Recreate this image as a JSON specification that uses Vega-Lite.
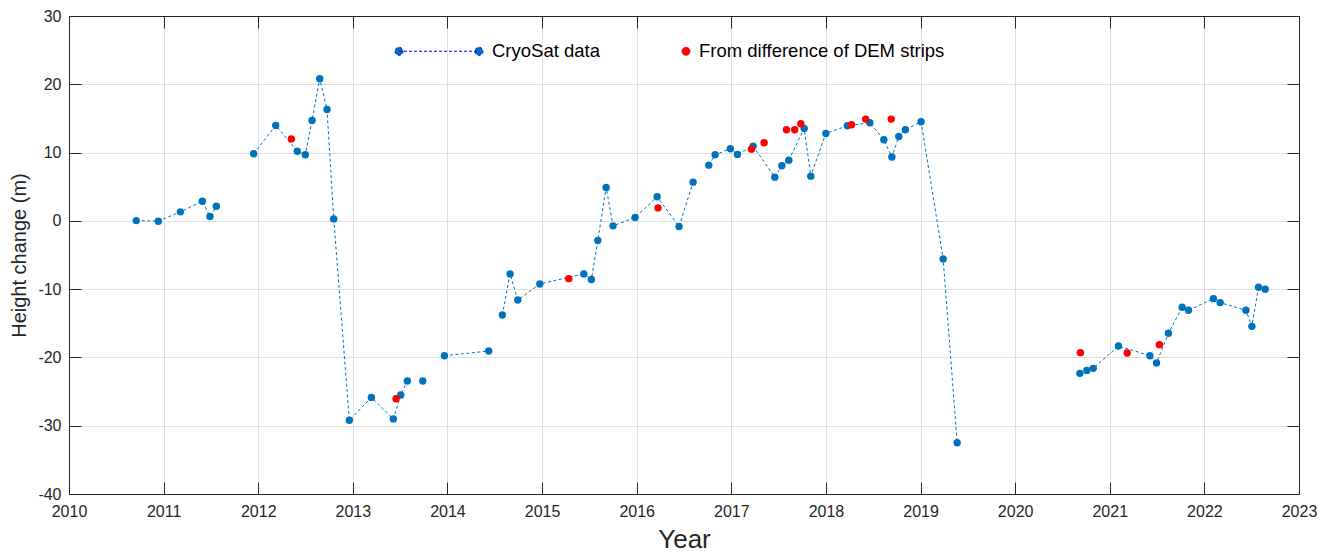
{
  "$schema": "https://vega.github.io/schema/vega-lite/v6.json",
  "width": 1230,
  "height": 478,
  "autosize": {"type": "none"},
  "padding": {"left": 69, "top": 16, "right": 33, "bottom": 59},
  "background": "white",
  "config": {
    "view": {"stroke": "#262626", "strokeWidth": 1},
    "font": "Liberation Sans",
    "axis": {
      "labelFont": "Liberation Sans",
      "titleFont": "Liberation Sans",
      "labelColor": "#262626",
      "titleColor": "#262626",
      "domainColor": "#262626",
      "tickColor": "#262626",
      "gridColor": "#dfdfdf",
      "gridOpacity": 1,
      "titleFontWeight": "normal",
      "labelFontSize": 16
    }
  },
  "data": {
    "values": [
      {"year": 2010.711, "value": 0.04, "series": "CryoSat data", "seg": 1},
      {"year": 2010.944, "value": -0.05, "series": "CryoSat data", "seg": 1},
      {"year": 2011.177, "value": 1.32, "series": "CryoSat data", "seg": 1},
      {"year": 2011.409, "value": 2.88, "series": "CryoSat data", "seg": 1},
      {"year": 2011.49, "value": 0.63, "series": "CryoSat data", "seg": 1},
      {"year": 2011.557, "value": 2.15, "series": "CryoSat data", "seg": 1},
      {"year": 2011.952, "value": 9.82, "series": "CryoSat data", "seg": 2},
      {"year": 2012.185, "value": 13.98, "series": "CryoSat data", "seg": 2},
      {"year": 2012.413, "value": 10.2, "series": "CryoSat data", "seg": 2},
      {"year": 2012.498, "value": 9.68, "series": "CryoSat data", "seg": 2},
      {"year": 2012.569, "value": 14.7, "series": "CryoSat data", "seg": 2},
      {"year": 2012.65, "value": 20.8, "series": "CryoSat data", "seg": 2},
      {"year": 2012.727, "value": 16.3, "series": "CryoSat data", "seg": 2},
      {"year": 2012.798, "value": 0.29, "series": "CryoSat data", "seg": 2},
      {"year": 2012.963, "value": -29.2, "series": "CryoSat data", "seg": 2},
      {"year": 2013.196, "value": -25.85, "series": "CryoSat data", "seg": 2},
      {"year": 2013.428, "value": -29.0, "series": "CryoSat data", "seg": 2},
      {"year": 2013.506, "value": -25.5, "series": "CryoSat data", "seg": 2},
      {"year": 2013.576, "value": -23.46, "series": "CryoSat data", "seg": 2},
      {"year": 2013.739, "value": -23.46, "series": "CryoSat data", "seg": 3},
      {"year": 2013.968, "value": -19.75, "series": "CryoSat data", "seg": 4},
      {"year": 2014.436, "value": -19.06, "series": "CryoSat data", "seg": 4},
      {"year": 2014.58, "value": -13.78, "series": "CryoSat data", "seg": 5},
      {"year": 2014.662, "value": -7.77, "series": "CryoSat data", "seg": 5},
      {"year": 2014.743, "value": -11.58, "series": "CryoSat data", "seg": 5},
      {"year": 2014.976, "value": -9.24, "series": "CryoSat data", "seg": 5},
      {"year": 2015.441, "value": -7.77, "series": "CryoSat data", "seg": 5},
      {"year": 2015.521, "value": -8.6, "series": "CryoSat data", "seg": 5},
      {"year": 2015.589, "value": -2.88, "series": "CryoSat data", "seg": 5},
      {"year": 2015.677, "value": 4.89, "series": "CryoSat data", "seg": 5},
      {"year": 2015.75, "value": -0.73, "series": "CryoSat data", "seg": 5},
      {"year": 2015.983, "value": 0.49, "series": "CryoSat data", "seg": 5},
      {"year": 2016.216, "value": 3.52, "series": "CryoSat data", "seg": 5},
      {"year": 2016.448, "value": -0.83, "series": "CryoSat data", "seg": 5},
      {"year": 2016.596, "value": 5.67, "series": "CryoSat data", "seg": 5},
      {"year": 2016.762, "value": 8.16, "series": "CryoSat data", "seg": 6},
      {"year": 2016.829, "value": 9.68, "series": "CryoSat data", "seg": 6},
      {"year": 2016.99, "value": 10.56, "series": "CryoSat data", "seg": 6},
      {"year": 2017.065, "value": 9.73, "series": "CryoSat data", "seg": 6},
      {"year": 2017.23, "value": 10.95, "series": "CryoSat data", "seg": 6},
      {"year": 2017.46, "value": 6.4, "series": "CryoSat data", "seg": 6},
      {"year": 2017.534, "value": 8.06, "series": "CryoSat data", "seg": 6},
      {"year": 2017.608, "value": 8.89, "series": "CryoSat data", "seg": 6},
      {"year": 2017.77, "value": 13.54, "series": "CryoSat data", "seg": 6},
      {"year": 2017.84, "value": 6.55, "series": "CryoSat data", "seg": 6},
      {"year": 2017.999, "value": 12.8, "series": "CryoSat data", "seg": 6},
      {"year": 2018.227, "value": 13.93, "series": "CryoSat data", "seg": 6},
      {"year": 2018.464, "value": 14.37, "series": "CryoSat data", "seg": 6},
      {"year": 2018.612, "value": 11.88, "series": "CryoSat data", "seg": 6},
      {"year": 2018.697, "value": 9.34, "series": "CryoSat data", "seg": 6},
      {"year": 2018.77, "value": 12.36, "series": "CryoSat data", "seg": 6},
      {"year": 2018.84, "value": 13.34, "series": "CryoSat data", "seg": 6},
      {"year": 2019.006, "value": 14.52, "series": "CryoSat data", "seg": 6},
      {"year": 2019.239, "value": -5.57, "series": "CryoSat data", "seg": 6},
      {"year": 2019.387, "value": -32.5, "series": "CryoSat data", "seg": 6},
      {"year": 2020.684, "value": -22.33, "series": "CryoSat data", "seg": 7},
      {"year": 2020.758, "value": -21.9, "series": "CryoSat data", "seg": 7},
      {"year": 2020.825, "value": -21.6, "series": "CryoSat data", "seg": 7},
      {"year": 2021.092, "value": -18.33, "series": "CryoSat data", "seg": 7},
      {"year": 2021.424, "value": -19.75, "series": "CryoSat data", "seg": 7},
      {"year": 2021.494, "value": -20.8, "series": "CryoSat data", "seg": 7},
      {"year": 2021.62, "value": -16.47, "series": "CryoSat data", "seg": 7},
      {"year": 2021.765, "value": -12.65, "series": "CryoSat data", "seg": 7},
      {"year": 2021.832, "value": -13.1, "series": "CryoSat data", "seg": 7},
      {"year": 2022.096, "value": -11.39, "series": "CryoSat data", "seg": 7},
      {"year": 2022.167, "value": -11.97, "series": "CryoSat data", "seg": 7},
      {"year": 2022.439, "value": -13.1, "series": "CryoSat data", "seg": 7},
      {"year": 2022.502, "value": -15.45, "series": "CryoSat data", "seg": 7},
      {"year": 2022.572, "value": -9.72, "series": "CryoSat data", "seg": 7},
      {"year": 2022.643, "value": -10.0, "series": "CryoSat data", "seg": 7},
      {"year": 2012.35, "value": 12.0, "series": "From difference of DEM strips", "seg": 0},
      {"year": 2013.457, "value": -26.05, "series": "From difference of DEM strips", "seg": 0},
      {"year": 2015.282, "value": -8.46, "series": "From difference of DEM strips", "seg": 0},
      {"year": 2016.226, "value": 1.9, "series": "From difference of DEM strips", "seg": 0},
      {"year": 2017.213, "value": 10.5, "series": "From difference of DEM strips", "seg": 0},
      {"year": 2017.347, "value": 11.44, "series": "From difference of DEM strips", "seg": 0},
      {"year": 2017.583, "value": 13.34, "series": "From difference of DEM strips", "seg": 0},
      {"year": 2017.67, "value": 13.34, "series": "From difference of DEM strips", "seg": 0},
      {"year": 2017.735, "value": 14.22, "series": "From difference of DEM strips", "seg": 0},
      {"year": 2018.27, "value": 14.08, "series": "From difference of DEM strips", "seg": 0},
      {"year": 2018.42, "value": 14.9, "series": "From difference of DEM strips", "seg": 0},
      {"year": 2018.69, "value": 14.9, "series": "From difference of DEM strips", "seg": 0},
      {"year": 2020.69, "value": -19.3, "series": "From difference of DEM strips", "seg": 0},
      {"year": 2021.184, "value": -19.35, "series": "From difference of DEM strips", "seg": 0},
      {"year": 2021.525, "value": -18.13, "series": "From difference of DEM strips", "seg": 0}
    ]
  },
  "layer": [
    {
      "transform": [{"filter": "datum.series === 'CryoSat data'"}],
      "mark": {"type": "line", "color": "#0072BD", "strokeWidth": 1, "strokeDash": [3, 2.5]},
      "encoding": {
        "x": {
          "field": "year", "type": "quantitative",
          "scale": {"domain": [2010, 2023], "nice": false, "zero": false},
          "axis": {"orient": "top", "labels": false, "title": null, "grid": false, "tickSize": -12,
                   "values": [2010, 2011, 2012, 2013, 2014, 2015, 2016, 2017, 2018, 2019, 2020, 2021, 2022, 2023]}
        },
        "y": {
          "field": "value", "type": "quantitative",
          "scale": {"domain": [-40, 30], "nice": false, "zero": false},
          "axis": {"orient": "right", "labels": false, "title": null, "grid": false, "tickSize": -12,
                   "values": [-40, -30, -20, -10, 0, 10, 20, 30]}
        },
        "detail": {"field": "seg", "type": "nominal"}
      }
    },
    {
      "mark": {"type": "point", "filled": true, "size": 55, "opacity": 1, "strokeWidth": 0},
      "encoding": {
        "x": {
          "field": "year", "type": "quantitative",
          "axis": {"orient": "bottom", "title": "Year", "titleFontSize": 26, "titlePadding": 7,
                   "grid": true, "tickSize": -12, "labelPadding": 21, "labelExpr": "datum.value + ''", "labelFlush": false,
                   "values": [2010, 2011, 2012, 2013, 2014, 2015, 2016, 2017, 2018, 2019, 2020, 2021, 2022, 2023]}
        },
        "y": {
          "field": "value", "type": "quantitative",
          "axis": {"orient": "left", "title": "Height change (m)", "titleFontSize": 20, "titlePadding": 8,
                   "grid": true, "tickSize": -12, "labelPadding": 20, "labelExpr": "datum.value + ''",
                   "values": [-40, -30, -20, -10, 0, 10, 20, 30]}
        },
        "color": {
          "field": "series", "type": "nominal",
          "scale": {"domain": ["CryoSat data", "From difference of DEM strips"], "range": ["#0072BD", "#ff0000"]},
          "legend": {
            "orient": "none", "legendX": 325, "legendY": -10, "direction": "horizontal", "title": null,
            "symbolSize": 7900, "symbolStrokeWidth": 1, "labelFontSize": 18.5, "labelFont": "Liberation Sans",
            "labelColor": "#000000", "labelOffset": 8, "columnPadding": 1, "padding": 0, "symbolOpacity": 1,
            "labelLimit": 500, "symbolFillColor": "#0000ff", "symbolStrokeColor": "#0000ff",
            "encode": {
              "symbols": {
                "update": {
                  "shape": {"signal": "datum.value === 'CryoSat data' ? 'M-0.9,0L0.9,0M-0.99,0a0.09,0.09 0 1,0 0.18,0a0.09,0.09 0 1,0 -0.18,0ZM0.81,0a0.09,0.09 0 1,0 0.18,0a0.09,0.09 0 1,0 -0.18,0Z' : 'M0.81,0a0.09,0.09 0 1,0 0.18,0a0.09,0.09 0 1,0 -0.18,0Z'"},
                  "fill": {"signal": "datum.value === 'CryoSat data' ? '#0000ff' : '#ff0000'"},
                  "stroke": {"signal": "datum.value === 'CryoSat data' ? '#0000ff' : '#ff0000'"},
                  "strokeDash": {"signal": "datum.value === 'CryoSat data' ? [3, 2] : [1, 0]"},
                  "opacity": {"value": 1}
                }
              }
            }
          }
        }
      }
    }
  ],
  "resolve": {"axis": {"x": "independent", "y": "independent"}}
}
